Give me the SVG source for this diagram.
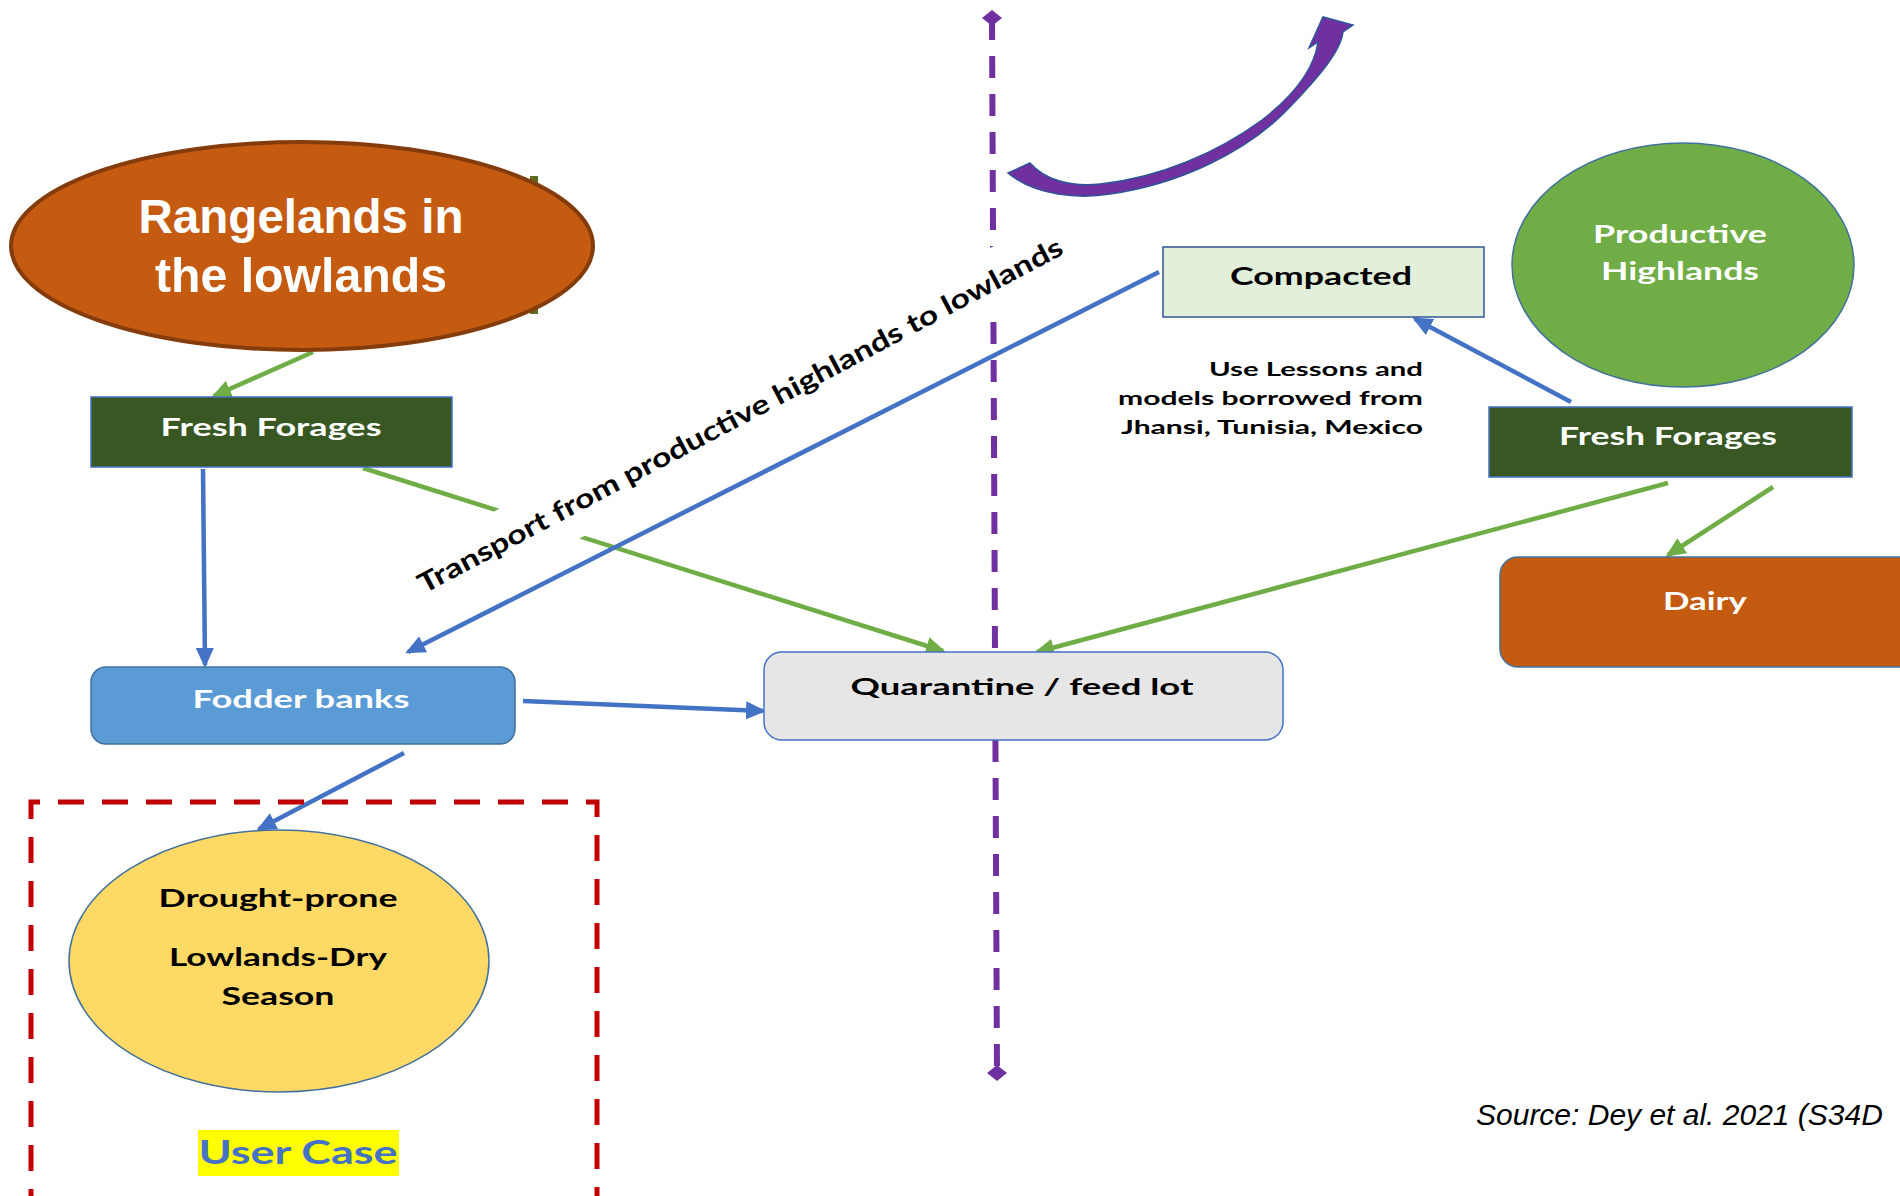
<svg xmlns="http://www.w3.org/2000/svg" width="1900" height="1196" viewBox="0 0 1900 1196">
<defs>
<style>
.lbl{font-family:Lato,"Open Sans","Liberation Sans",sans-serif;font-weight:bold;text-anchor:middle}
.w{fill:#ffffff}
.k{fill:#000000}
.cb{stroke:#4472C4;stroke-width:4.5;fill:none;marker-end:url(#ab)}
.cg{stroke:#70AD47;stroke-width:4.5;fill:none;marker-end:url(#ag)}
.edge{stroke:#41719C;stroke-width:1.5}
</style>
<marker id="ab" markerUnits="userSpaceOnUse" markerWidth="20" markerHeight="18" viewBox="0 0 20 18" refX="17" refY="9" orient="auto"><path d="M0,0 L20,9 L0,18 z" fill="#4472C4"/></marker>
<marker id="ag" markerUnits="userSpaceOnUse" markerWidth="20" markerHeight="18" viewBox="0 0 20 18" refX="17" refY="9" orient="auto"><path d="M0,0 L20,9 L0,18 z" fill="#70AD47"/></marker>
<marker id="dm" markerUnits="userSpaceOnUse" markerWidth="20" markerHeight="16" viewBox="0 0 20 16" refX="10" refY="8" orient="0"><path d="M0,8 L10,0 L20,8 L10,16 z" fill="#7030A0"/></marker>
</defs>
<rect x="0" y="0" width="1900" height="1196" fill="#ffffff"/>

<g id="decor">
<line x1="992" y1="18" x2="997" y2="1073" stroke="#7030A0" stroke-width="6" stroke-dasharray="22 16" marker-start="url(#dm)" marker-end="url(#dm)"/>
<path d="M1008,173 C1035,196 1080,199 1110,194 C1180,184 1245,152 1285,112 C1322,74 1341,50 1343,32 L1353,25 L1323,17 L1309,48 L1318,42 C1314,70 1293,96 1262,120 C1218,152 1160,178 1100,184 C1070,187 1045,180 1030,163 Z" fill="#7030A0" stroke="#2F5597" stroke-width="1.5"/>
<rect x="530" y="176" width="8" height="8" fill="#5E6B1E"/>
<rect x="530" y="306" width="8" height="8" fill="#5E6B1E"/>
</g>

<g id="connectors">
<line class="cg" x1="313" y1="352" x2="214" y2="396"/>
<line class="cg" x1="363" y1="468" x2="943" y2="651"/>
<line class="cg" x1="1668" y1="483" x2="1037" y2="652"/>
<line class="cg" x1="1773" y1="487" x2="1668" y2="555"/>
<g id="transport-label" transform="translate(424,594) rotate(-27.98)">
<rect x="-10" y="-40" width="750" height="64" fill="#ffffff"/>
<text x="0" y="0" class="lbl k" style="text-anchor:start" font-size="27" textLength="726" lengthAdjust="spacingAndGlyphs">Transport from productive highlands to lowlands</text>
</g>
<line class="cb" x1="203" y1="469" x2="205" y2="665"/>
<line class="cb" x1="523" y1="701" x2="763" y2="711"/>
<line class="cb" x1="1159" y1="272" x2="408" y2="652"/>
<line class="cb" x1="1571" y1="402" x2="1415" y2="319"/>
<line class="cb" x1="404" y1="753" x2="259" y2="829"/>
</g>

<g id="rangelands">
<ellipse cx="302" cy="246" rx="291" ry="104" fill="#C55A11" stroke="#843C0C" stroke-width="4"/>
<text x="301" y="233" font-family="'Liberation Sans',Arial,sans-serif" font-weight="bold" font-size="48" fill="#ffffff" text-anchor="middle" textLength="325" lengthAdjust="spacingAndGlyphs">Rangelands in</text>
<text x="301" y="292" font-family="'Liberation Sans',Arial,sans-serif" font-weight="bold" font-size="48" fill="#ffffff" text-anchor="middle" textLength="292" lengthAdjust="spacingAndGlyphs">the lowlands</text>
</g>

<g id="fresh-forages-left">
<rect x="91" y="397" width="361" height="70" fill="#385723" stroke="#4472C4" stroke-width="1.5"/>
<text x="271" y="436" class="lbl w" font-size="24" textLength="221" lengthAdjust="spacingAndGlyphs">Fresh Forages</text>
</g>

<g id="fodder-banks">
<rect x="91" y="667" width="424" height="77" rx="15" fill="#5B9BD5" class="edge"/>
<text x="301" y="708" class="lbl w" font-size="24" textLength="217" lengthAdjust="spacingAndGlyphs">Fodder banks</text>
</g>

<g id="quarantine">
<rect x="764" y="652" width="519" height="88" rx="18" fill="#E7E6E6" stroke="#4472C4" stroke-width="1.5"/>
<text x="1022" y="695" class="lbl k" font-size="22" textLength="343" lengthAdjust="spacingAndGlyphs">Quarantine / feed lot</text>
</g>

<g id="compacted">
<rect x="1163" y="247" width="321" height="70" fill="#E2EFDA" stroke="#2F5597" stroke-width="1.5"/>
<text x="1321" y="285" class="lbl k" font-size="25" textLength="182" lengthAdjust="spacingAndGlyphs">Compacted</text>
</g>

<g id="lessons-note">
<text x="1423" y="376" class="lbl k" style="text-anchor:end" font-size="19" textLength="214" lengthAdjust="spacingAndGlyphs">Use Lessons and</text>
<text x="1423" y="405" class="lbl k" style="text-anchor:end" font-size="19" textLength="305" lengthAdjust="spacingAndGlyphs">models borrowed from</text>
<text x="1423" y="434" class="lbl k" style="text-anchor:end" font-size="19" textLength="302" lengthAdjust="spacingAndGlyphs">Jhansi, Tunisia, Mexico</text>
</g>

<g id="productive-highlands">
<ellipse cx="1683" cy="265" rx="171" ry="122" fill="#70AD47" class="edge"/>
<text x="1680" y="243" class="lbl w" font-size="24" textLength="174" lengthAdjust="spacingAndGlyphs">Productive</text>
<text x="1680" y="280" class="lbl w" font-size="24" textLength="158" lengthAdjust="spacingAndGlyphs">Highlands</text>
</g>

<g id="fresh-forages-right">
<rect x="1489" y="407" width="363" height="70" fill="#385723" stroke="#4472C4" stroke-width="1.5"/>
<text x="1668" y="445" class="lbl w" font-size="24" textLength="218" lengthAdjust="spacingAndGlyphs">Fresh Forages</text>
</g>

<g id="dairy">
<rect x="1500" y="557" width="430" height="110" rx="18" fill="#C55A11" class="edge"/>
<text x="1705" y="610" class="lbl w" font-size="24" textLength="84" lengthAdjust="spacingAndGlyphs">Dairy</text>
</g>

<g id="user-case-frame">
<path d="M31,1215 V802 H597 V1215" fill="none" stroke="#C00000" stroke-width="5" stroke-dasharray="26 18"/>
</g>

<g id="drought">
<ellipse cx="279" cy="961" rx="210" ry="131" fill="#FFD966" class="edge"/>
<text x="278" y="907" class="lbl k" font-size="24" textLength="239" lengthAdjust="spacingAndGlyphs">Drought-prone</text>
<text x="278" y="966" class="lbl k" font-size="24" textLength="218" lengthAdjust="spacingAndGlyphs">Lowlands-Dry</text>
<text x="278" y="1005" class="lbl k" font-size="24" textLength="113" lengthAdjust="spacingAndGlyphs">Season</text>
</g>

<g id="user-case">
<rect x="198" y="1130" width="201" height="46" fill="#FFFF00"/>
<text x="298" y="1164" class="lbl" fill="#4472C4" font-size="32" textLength="199" lengthAdjust="spacingAndGlyphs">User Case</text>
</g>

<g id="source">
<text x="1476" y="1125" font-family="'Liberation Sans',Arial,sans-serif" font-style="italic" font-size="30" fill="#000000">Source: Dey et al. 2021 (S34D</text>
</g>
</svg>
